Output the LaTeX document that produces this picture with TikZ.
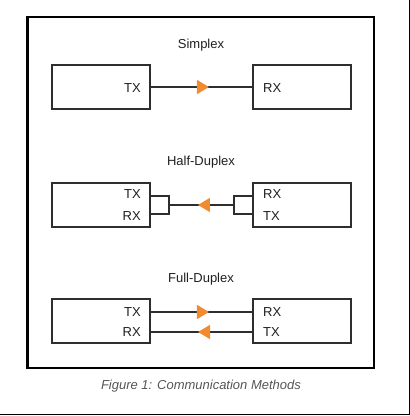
\documentclass[tikz,border=0pt]{standalone}
\usepackage{fontspec}
\setmainfont{Liberation Sans}
\usetikzlibrary{decorations.markings,arrows.meta}
\definecolor{tipor}{HTML}{F28A2E}
\definecolor{boxline}{HTML}{2E2E2E}
\definecolor{capgray}{HTML}{555555}
\tikzset{
  dev/.style={draw=boxline,line width=1.5pt,minimum width=98pt,minimum height=44pt,inner sep=0pt},
  lbl/.style={font=\fontsize{13}{15}\selectfont,text=black!88,inner sep=0pt},
  ttl/.style={font=\fontsize{13}{15}\selectfont,text=black!88,inner sep=0pt},
  wire/.style={draw=boxline,line width=1.8pt},
  midtip/.style={postaction={decorate},decoration={markings,
    mark=at position #1 with {\arrow{Triangle[length=12pt,width=14pt,fill=tipor,color=tipor]}}}}
}
\begin{document}
\begin{tikzpicture}[x=1pt,y=-1pt]
\useasboundingbox (0,0) rectangle (410,416);
% outer page lines
\draw[line width=1pt] (409,0) -- (409,414) -- (0,414);
% main frame
\draw[line width=2.6pt] (27.5,17) rectangle (374,368);

% Simplex
\node[ttl] (t1) at (201,45) {Simplex};
\node[dev] (sL) at (101,87) {};
\node[dev] (sR) at (302,87) {};
\node[lbl,anchor=east] (sLtx) at (141,88) {TX};
\node[lbl,anchor=west] (sRrx) at (263,88) {RX};
\draw[wire,midtip=0.573] (sL.east) -- (sR.west);

% Half-Duplex
\node[ttl] (t2) at (201,162) {Half-Duplex};
\node[dev] (hL) at (101,205) {};
\node[dev] (hR) at (302,205) {};
\node[lbl,anchor=east] (hLtx) at (141,194.5) {TX};
\node[lbl,anchor=east] (hLrx) at (141,216) {RX};
\node[lbl,anchor=west] (hRrx) at (263,194.5) {RX};
\node[lbl,anchor=west] (hRtx) at (263,216) {TX};
\coordinate (bL) at (169,205);
\coordinate (bR) at (234,205);
\draw[wire] ([yshift=9pt]hL.east) -| (bL) |- ([yshift=-9pt]hL.east);
\draw[wire] ([yshift=9pt]hR.west) -| (bR) |- ([yshift=-9pt]hR.west);
\draw[wire,midtip=0.554] (bR) -- (bL);

% Full-Duplex
\node[ttl] (t3) at (201,279) {Full-Duplex};
\node[dev] (fL) at (101,321) {};
\node[dev] (fR) at (302,321) {};
\node[lbl,anchor=east] (fLtx) at (141,312.5) {TX};
\node[lbl,anchor=east] (fLrx) at (141,332) {RX};
\node[lbl,anchor=west] (fRrx) at (263,312.5) {RX};
\node[lbl,anchor=west] (fRtx) at (263,332) {TX};
\draw[wire,midtip=0.573] ([yshift=9pt]fL.east) -- ([yshift=9pt]fR.west);
\draw[wire,midtip=0.534] ([yshift=-11pt]fR.west) -- ([yshift=-11pt]fL.east);

% caption
\node[font=\fontsize{13}{15}\selectfont\itshape,text=capgray,inner sep=0pt] (cap) at (201,386) {Figure 1: Communication Methods};
\end{tikzpicture}
\end{document}
